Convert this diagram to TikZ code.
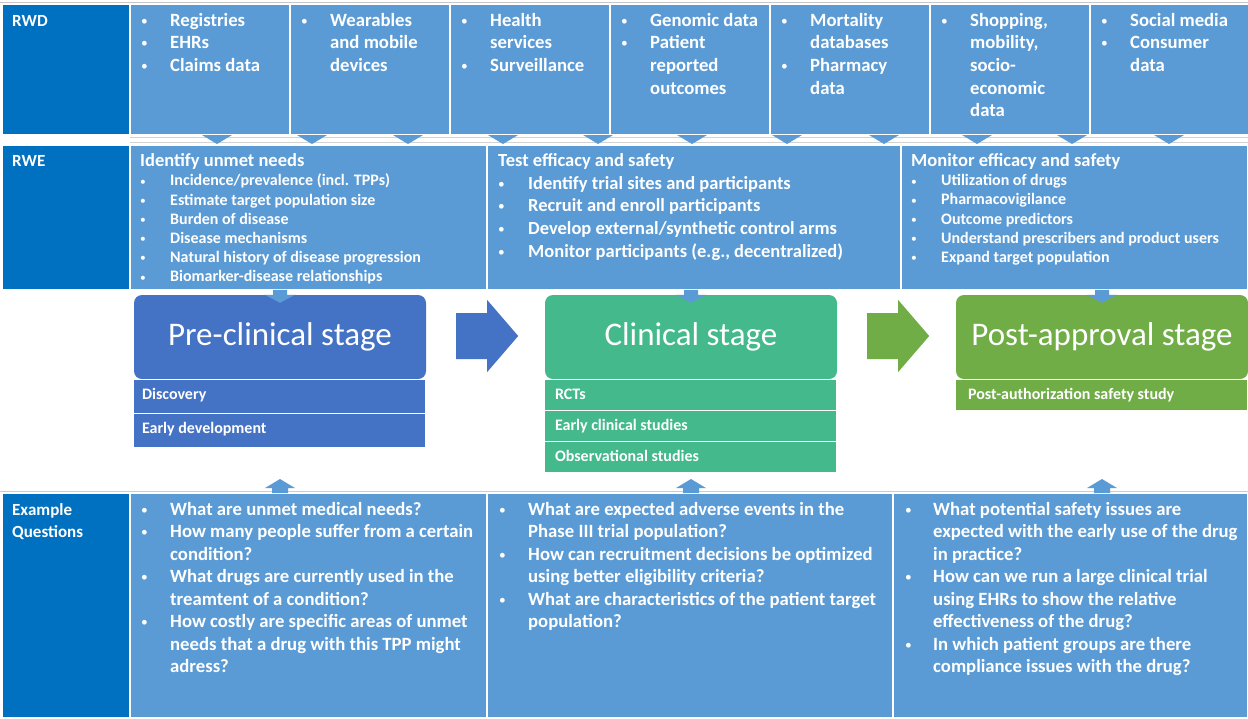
\documentclass[tikz,border=0pt]{standalone}
\usepackage{fontspec}
\usepackage{graphicx}
\setmainfont{Carlito}
\usetikzlibrary{calc}
\definecolor{hdrblue}{HTML}{0070C0}
\definecolor{cellblue}{HTML}{5B9BD5}
\definecolor{preblue}{HTML}{4472C4}
\definecolor{clingreen}{HTML}{44B98C}
\definecolor{postgreen}{HTML}{70AD47}
\newcommand{\bl}{\mdseries\raisebox{.05em}{\scalebox{.72}{\textbullet}}&}
\tikzset{
	box/.style={draw=white, line width=1.2pt, anchor=north west, inner sep=0pt, outer sep=0pt},
	txt/.style={anchor=base west, inner sep=0pt, text=white, font=\bfseries},
	stage/.style={rounded corners=8pt, text=white, minimum width=292pt, minimum height=84pt, inner sep=0pt, font=\fontsize{33}{36}\selectfont},
	sub/.style={draw=white, line width=1.2pt, anchor=north west, minimum width=292pt, inner sep=0pt, outer sep=0pt},
	subtxt/.style={anchor=base west, inner sep=0pt, text=white, font=\fontsize{16}{18}\selectfont\bfseries},
}
\begin{document}
\begin{tikzpicture}[x=1pt,y=-1pt]
		\useasboundingbox[fill=white] (0,0) rectangle (1248,718);
		\draw[gray!45] (0,2.5) -- (1248,2.5);
		\draw[gray!35] (130,137.5) -- (1248,137.5);
		\draw[gray!35] (130,142.5) -- (1248,142.5);
		\draw[gray!40] (0,491.5) -- (1248,491.5);
		\node[box, fill=hdrblue, minimum width=128pt, minimum height=131pt] (rwd) at (2,4) {};
		\foreach \i in {0,...,6}
			\node[box, fill=cellblue, minimum width=160pt, minimum height=131pt] (d\i) at (130+160*\i,4) {};
		\foreach \x in {217,312,408,503,598,692,787,884,977,1072,1169}
			\fill[cellblue] (\x-15,135) -- (\x+15,135) -- (\x,144) -- cycle;
		\node[box, fill=hdrblue, minimum width=128pt, minimum height=145pt] (rwe) at (2,145) {};
		\node[box, fill=cellblue, minimum width=357pt, minimum height=145pt] (e1) at (130,145) {};
		\node[box, fill=cellblue, minimum width=414pt, minimum height=145pt] (e2) at (487,145) {};
		\node[box, fill=cellblue, minimum width=347pt, minimum height=145pt] (e3) at (901,145) {};
		\node[box, fill=hdrblue, minimum width=128pt, minimum height=225pt] (qh) at (2,493) {};
		\node[box, fill=cellblue, minimum width=357pt, minimum height=225pt] (q1) at (130,493) {};
		\node[box, fill=cellblue, minimum width=406pt, minimum height=225pt] (q2) at (487,493) {};
		\node[box, fill=cellblue, minimum width=355pt, minimum height=225pt] (q3) at (893,493) {};
		\node[txt, font=\fontsize{17}{22.5}\selectfont\bfseries] (rwdt) at ($(rwd.north west)+(10,22)$) {RWD};
		\node[txt, font=\fontsize{17}{22.5}\selectfont\bfseries] (rwet) at ($(rwe.north west)+(10,21.7)$) {RWE};
		\node[txt, font=\fontsize{17}{22.5}\selectfont\bfseries] (qht) at ($(qh.north west)+(10,22)$)
		{\begin{tabular}[t]{@{}l@{}}Example\\Questions\end{tabular}};
		\node[txt, font=\fontsize{18.7}{22.7}\selectfont\bfseries] (d0t) at ($(d0.north west)+(11,22)$)
		{\begin{tabular}[t]{@{}p{29pt}@{}l@{}}\bl Registries\\\bl EHRs\\\bl Claims data\end{tabular}};
		\node[txt, font=\fontsize{18.7}{22.7}\selectfont\bfseries] (d1t) at ($(d1.north west)+(11,22)$)
		{\begin{tabular}[t]{@{}p{29pt}@{}l@{}}\bl Wearables\\& and mobile\\& devices\end{tabular}};
		\node[txt, font=\fontsize{18.7}{22.7}\selectfont\bfseries] (d2t) at ($(d2.north west)+(11,22)$)
		{\begin{tabular}[t]{@{}p{29pt}@{}l@{}}\bl Health\\& services\\\bl Surveillance\end{tabular}};
		\node[txt, font=\fontsize{18.7}{22.7}\selectfont\bfseries] (d3t) at ($(d3.north west)+(11,22)$)
		{\begin{tabular}[t]{@{}p{29pt}@{}l@{}}\bl Genomic data\\\bl Patient\\& reported\\& outcomes\end{tabular}};
		\node[txt, font=\fontsize{18.7}{22.7}\selectfont\bfseries] (d4t) at ($(d4.north west)+(11,22)$)
		{\begin{tabular}[t]{@{}p{29pt}@{}l@{}}\bl Mortality\\& databases\\\bl Pharmacy\\& data\end{tabular}};
		\node[txt, font=\fontsize{18.7}{22.7}\selectfont\bfseries] (d5t) at ($(d5.north west)+(11,22)$)
		{\begin{tabular}[t]{@{}p{29pt}@{}l@{}}\bl Shopping,\\& mobility,\\& socio-\\& economic\\& data\end{tabular}};
		\node[txt, font=\fontsize{18.7}{22.7}\selectfont\bfseries] (d6t) at ($(d6.north west)+(11,22)$)
		{\begin{tabular}[t]{@{}p{29pt}@{}l@{}}\bl Social media\\\bl Consumer\\& data\end{tabular}};
		\node[txt, font=\fontsize{16}{19.2}\selectfont\bfseries] (e1t) at ($(e1.north west)+(10,21.7)$)
		{\begin{tabular}[t]{@{}p{30pt}@{}l@{}}\multicolumn{2}{@{}l@{}}{\fontsize{18.5}{19.2}\selectfont Identify unmet needs}\\
		\bl Incidence/prevalence (incl. TPPs)\\\bl Estimate target population size\\\bl Burden of disease\\
		\bl Disease mechanisms\\\bl Natural history of disease progression\\\bl Biomarker-disease relationships\end{tabular}};
		\node[txt, font=\fontsize{18.5}{22.6}\selectfont\bfseries] (e2t) at ($(e2.north west)+(11,21.7)$)
		{\begin{tabular}[t]{@{}p{30pt}@{}l@{}}\multicolumn{2}{@{}l@{}}{Test efficacy and safety}\\
		\bl Identify trial sites and participants\\\bl Recruit and enroll participants\\
		\bl Develop external/synthetic control arms\\\bl Monitor participants (e.g., decentralized)\end{tabular}};
		\node[txt, font=\fontsize{16}{19.1}\selectfont\bfseries] (e3t) at ($(e3.north west)+(10,21.7)$)
		{\begin{tabular}[t]{@{}p{30pt}@{}l@{}}\multicolumn{2}{@{}l@{}}{\fontsize{18.5}{19.1}\selectfont Monitor efficacy and safety}\\
		\bl Utilization of drugs\\\bl Pharmacovigilance\\\bl Outcome predictors\\
		\bl Understand prescribers and product users\\\bl Expand target population\end{tabular}};
		\node[txt, font=\fontsize{18.7}{22.5}\selectfont\bfseries] (q1t) at ($(q1.north west)+(11,22)$)
		{\begin{tabular}[t]{@{}p{29pt}@{}l@{}}\bl What are unmet medical needs?\\
		\bl How many people suffer from a certain\\& condition?\\
		\bl What drugs are currently used in the\\& treamtent of a condition?\\
		\bl How costly are specific areas of unmet\\& needs that a drug with this TPP might\\& adress?\end{tabular}};
		\node[txt, font=\fontsize{18.7}{22.5}\selectfont\bfseries] (q2t) at ($(q2.north west)+(12,22)$)
		{\begin{tabular}[t]{@{}p{29pt}@{}l@{}}\bl What are expected adverse events in the\\& Phase III trial population?\\
		\bl How can recruitment decisions be optimized\\& using better eligibility criteria?\\
		\bl What are characteristics of the patient target\\& population?\end{tabular}};
		\node[txt, font=\fontsize{18.7}{22.5}\selectfont\bfseries] (q3t) at ($(q3.north west)+(12,22)$)
		{\begin{tabular}[t]{@{}p{28pt}@{}l@{}}\bl What potential safety issues are\\& expected with the early use of the drug\\& in practice?\\
		\bl How can we run a large clinical trial\\& using EHRs to show the relative\\& effectiveness of the drug?\\
		\bl In which patient groups are there\\& compliance issues with the drug?\end{tabular}};
		\node[stage, fill=preblue] (pre) at (280,337) {Pre-clinical stage};
		\node[stage, fill=clingreen] (clin) at (691,337) {Clinical stage};
		\node[stage, fill=postgreen] (post) at (1102,337) {Post-approval stage};
		\node[sub, fill=preblue, minimum height=34pt] (disc) at (pre.south west) {};
		\node[sub, fill=preblue, minimum height=34pt] (edev) at (disc.south west) {};
		\node[sub, fill=clingreen, minimum height=31pt] (rct) at (clin.south west) {};
		\node[sub, fill=clingreen, minimum height=31pt] (ecs) at (rct.south west) {};
		\node[sub, fill=clingreen, minimum height=31pt] (obs) at (ecs.south west) {};
		\node[sub, fill=postgreen, minimum height=31pt] (pass) at (post.south west) {};
		\node[subtxt] (disct) at ($(disc.north west)+(8,20)$) {Discovery};
		\node[subtxt] (edevt) at ($(edev.north west)+(8,20)$) {Early development};
		\node[subtxt] (rctt) at ($(rct.north west)+(10,20)$) {RCTs};
		\node[subtxt] (ecst) at ($(ecs.north west)+(10,20)$) {Early clinical studies};
		\node[subtxt] (obst) at ($(obs.north west)+(10,20)$) {Observational studies};
		\node[subtxt] (passt) at ($(pass.north west)+(12,20)$) {Post-authorization safety study};
		\fill[preblue] ($(pre.east)+(30,-24)$) -- ++(31,0) -- ++(0,-13) -- ++(31,36) -- ++(-31,36) -- ++(0,-13) -- ++(-31,0) -- cycle;
		\fill[postgreen] ($(clin.east)+(30,-24)$) -- ++(31,0) -- ++(0,-13) -- ++(31,36) -- ++(-31,36) -- ++(0,-13) -- ++(-31,0) -- cycle;
		\foreach \s in {pre,clin,post} {
			\fill[cellblue] ($(\s.north)+(-7,-5)$) -- ++(14,0) -- ++(0,5) -- ++(8,0) -- ++(-15,8) -- ++(-15,-8) -- ++(8,0) -- cycle;
			\fill[cellblue] ($(\s.north |- q1.north)+(-8,0)$) -- ++(16,0) -- ++(0,-5) -- ++(7,0) -- ++(-15,-9) -- ++(-15,9) -- ++(7,0) -- cycle;
		}
	\end{tikzpicture}
\end{document}
